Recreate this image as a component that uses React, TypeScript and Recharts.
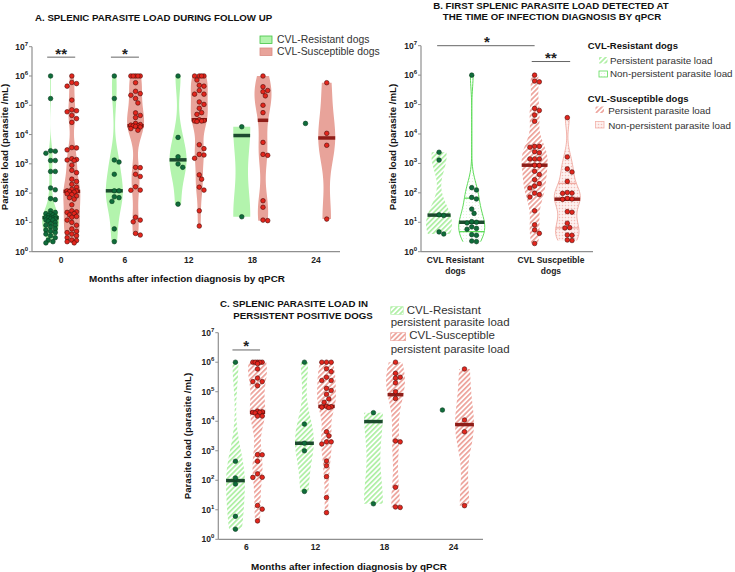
import React from 'react';
import { ScatterChart, Scatter, XAxis, YAxis } from 'recharts';

const FONT = '"Liberation Sans", Arial, Helvetica, sans-serif';
const AXIS = '#8f8f8f';

const decadeTicks = [1, 10, 100, 1000, 10000, 100000, 1000000, 10000000];

// A. splenic parasite load during follow up (parasites/mL)
const followUpMonths = [0, 6, 12, 18, 24];
const resistantFollowUp0 = [1000000, 170000, 2800, 2700, 2300, 1300, 1300, 550, 550, 150, 130, 65, 60, 25, 22, 20, 20, 18, 17, 16, 15, 15, 14, 14, 13, 13, 12, 12, 11, 10, 9, 8, 8, 7, 6, 5.5, 5, 4.5, 4, 3.5, 3, 2.5, 2.2, 2];
const susceptibleFollowUp0 = [1000000, 600000, 550000, 450000, 150000, 70000, 65000, 60000, 45000, 35000, 26000, 3600, 3500, 3000, 1500, 1400, 1350, 1300, 900, 600, 500, 300, 250, 200, 160, 135, 120, 118, 112, 108, 95, 90, 80, 70, 62, 40, 25, 23, 22, 20, 18, 16, 15, 12, 10, 8, 6, 5, 4.5, 4, 3.5, 3, 2.5, 2.4, 2.2, 2];
const resistantFollowUp6 = [1000000, 170000, 1350, 1150, 440, 120, 120, 75, 70, 52, 6, 2.2];
const susceptibleFollowUp6 = [1000000, 1000000, 1000000, 1000000, 1000000, 590000, 300000, 250000, 220000, 170000, 120000, 55000, 45000, 38000, 24000, 22000, 21000, 20000, 20000, 19000, 18000, 16000, 14000, 760, 740, 440, 370, 165, 127, 125, 15, 12, 10.5, 4.2, 3.7];
const resistantFollowUp12 = [1000000, 8000, 1750, 990, 760, 42];
const susceptibleFollowUp12 = [1000000, 1000000, 1000000, 1000000, 730000, 480000, 450000, 320000, 240000, 240000, 130000, 107000, 79000, 56000, 49000, 32000, 30000, 29000, 29000, 28000, 4500, 3300, 2100, 2000, 1550, 420, 300, 160, 127, 25, 7.5];
const resistantFollowUp18 = [18500, 15.6];
const susceptibleFollowUp18 = [1000000, 430000, 320000, 290000, 210000, 100000, 56000, 5400, 2100, 1950, 55, 33, 12, 11.5];
const resistantFollowUp24 = [24000];
const susceptibleFollowUp24 = [590000, 11000, 4300, 13];
const significanceA = [{ month: 0, stars: '**' }, { month: 6, stars: '*' }];

// B. first splenic parasite load at infection diagnosis
const firstLoadGroups = ['CVL Resistant\ndogs', 'CVL Suscpetible\ndogs'];
const resistantPersistentFirst = [2400, 1300, 18, 17, 4.7, 4];
const resistantNonPersistentFirst = [1000000, 150, 125, 70, 62, 28, 20, 10.5, 10, 9.5, 7, 6.2, 5.8, 3.8, 3.6, 2.3, 2.2];
const susceptiblePersistentFirst = [1000000, 630000, 590000, 74000, 63000, 44000, 27000, 3800, 3800, 3550, 2500, 2300, 1420, 1420, 1420, 870, 850, 540, 420, 280, 205, 170, 146, 98, 87, 72, 24.5, 8.2, 5.5, 4.2, 1.9];
const susceptibleNonPersistentFirst = [36000, 1660, 650, 510, 245, 103, 98, 96, 65, 62, 60, 23, 22, 9.3, 6.6, 6.4, 3.7, 3.6, 2.5, 2.4];

// C. persistent positive dogs
const persistentMonths = [6, 12, 18, 24];
const resistantPersistent6 = [1000000, 440, 120, 75, 6, 2.2];
const resistantPersistent12 = [1000000, 8000, 1800, 1000, 42];
const resistantPersistent18 = [19500, 16];
const resistantPersistent24 = [24000];
const susceptiblePersistent6 = [1000000, 1000000, 1000000, 1000000, 1000000, 900000, 590000, 290000, 220000, 220000, 160000, 22000, 21000, 20000, 20000, 19000, 15000, 15000, 740, 730, 440, 165, 126, 125, 14, 10.5, 4.2];
const susceptiblePersistent12 = [1000000, 1000000, 1000000, 600000, 480000, 310000, 240000, 240000, 130000, 110000, 82000, 57000, 44000, 32000, 31000, 30000, 29000, 4400, 3200, 2000, 2000, 1700, 450, 310, 133, 26, 8];
const susceptiblePersistent18 = [1000000, 420000, 310000, 290000, 200000, 100000, 59000, 2150, 2000, 58, 12.5, 12];
const susceptiblePersistent24 = [590000, 11000, 4400, 13.8];

// ---------- styles ----------
const RES_DOT = { dot: '#0f6d3b', dotStroke: '#0a3a1f', median: '#1c4a2e' };
const SUS_DOT = { dot: '#e3261d', dotStroke: '#4d0c08', median: '#8f1d18' };
const styleResA = { ...RES_DOT, fill: '#b3f4ad' };
const styleSusA = { ...SUS_DOT, fill: '#e8a39a' };
const styleResP = { ...RES_DOT, fill: 'url(#hatchG)' };
const styleResNP = { ...RES_DOT, fill: 'url(#dotsG)', stroke: '#5fdc5a', quartile: '#5fdc5a' };
const styleSusP = { ...SUS_DOT, fill: 'url(#hatchR)' };
const styleSusNP = { ...SUS_DOT, fill: 'url(#dotsR)', stroke: '#f2b2aa', quartile: '#efa9a1' };

// pixel geometry of each panel (for violin width and dot spreading)
const geoA = { pxPerX: 10.62, pxPerDecade: 29.29, half: 0.8, shift: 1.0, spread: 7 };
const geoB = { pxPerX: 95.4, pxPerDecade: 29.43, half: 0.136, shift: 0.171, spread: 9 };
const geoC = { pxPerX: 11.5, pxPerDecade: 29.5, half: 0.82, shift: 0.96, spread: 7 };

// ---------- helpers ----------
function quantile(values: number[], p: number) {
  const s = [...values].sort((a, b) => a - b);
  const n = s.length;
  const pos = p * (n + 1) - 1;
  if (pos <= 0) return s[0];
  if (pos >= n - 1) return s[n - 1];
  const lo = Math.floor(pos);
  return s[lo] + (s[lo + 1] - s[lo]) * (pos - lo);
}

function density(t: number[], h: number, y: number) {
  let s = 0;
  for (const ti of t) s += Math.exp(-((y - ti) ** 2) / (2 * h * h));
  return s;
}

function swarmOffsets(values: number[], pxPerDecade: number, maxPx: number) {
  const D = 4.7;
  const order = values.map((_, i) => i).sort((a, b) => values[b] - values[a]);
  const cands = [0];
  for (let k = 1; (k * D) / 2 <= maxPx + 0.01; k++) cands.push((k * D) / 2, (-k * D) / 2);
  const placed: { x: number; y: number }[] = [];
  const out = new Array(values.length).fill(0);
  for (const i of order) {
    const y = Math.log10(values[i]) * pxPerDecade;
    let best = 0;
    let bestGap = -Infinity;
    for (const c of cands) {
      let gap = Infinity;
      for (const p of placed) gap = Math.min(gap, Math.hypot(p.x - c, p.y - y));
      if (gap >= D) {
        best = c;
        break;
      }
      if (gap > bestGap) {
        bestGap = gap;
        best = c;
      }
    }
    placed.push({ x: best, y });
    out[i] = best;
  }
  return out;
}

function buildGroup(values: number[], center: number, geo: any, style: any, quartiles = false) {
  const offs = swarmOffsets(values, geo.pxPerDecade, geo.spread);
  const points = values.map((v, i) => ({ x: center + offs[i] / geo.pxPerX, y: v }));
  if (values.length < 2) return { style, points, outline: null, lines: [] as any[] };
  const t = values.map((v) => Math.log10(v));
  const n = t.length;
  const mean = t.reduce((a, b) => a + b, 0) / n;
  const sd = Math.sqrt(t.reduce((a, b) => a + (b - mean) ** 2, 0) / (n - 1));
  const h = Math.max(0.58 * sd * Math.pow(n, -0.2), 0.12);
  const lo = Math.min(...t);
  const hi = Math.max(...t);
  const steps = 60;
  const ys = Array.from({ length: steps + 1 }, (_, i) => lo + ((hi - lo) * i) / steps);
  const ds = ys.map((y) => density(t, h, y));
  const dmax = Math.max(...ds);
  const halfAt = (v: number) => (geo.half * density(t, h, Math.log10(v))) / dmax;
  const right = ys.map((y, i) => ({ x: center + (geo.half * ds[i]) / dmax, y: 10 ** y }));
  const left = ys.map((y, i) => ({ x: center - (geo.half * ds[i]) / dmax, y: 10 ** y })).reverse();
  const lines: any[] = [];
  const seg = (v: number) => [
    { x: center - halfAt(v), y: v },
    { x: center + halfAt(v), y: v },
  ];
  if (quartiles) {
    lines.push({ color: style.quartile, width: 1.3, data: seg(quantile(values, 0.25)) });
    lines.push({ color: style.quartile, width: 1.3, data: seg(quantile(values, 0.75)) });
  }
  lines.push({ color: style.median, width: 3.5, data: seg(quantile(values, 0.5)) });
  return { style, points, outline: [...right, ...left], lines };
}

// ---------- groups ----------
const resistantFollowUp = [resistantFollowUp0, resistantFollowUp6, resistantFollowUp12, resistantFollowUp18, resistantFollowUp24];
const susceptibleFollowUp = [susceptibleFollowUp0, susceptibleFollowUp6, susceptibleFollowUp12, susceptibleFollowUp18, susceptibleFollowUp24];
const groupsA = followUpMonths.flatMap((m, i) => [
  buildGroup(resistantFollowUp[i], m - geoA.shift, geoA, styleResA),
  buildGroup(susceptibleFollowUp[i], m + geoA.shift, geoA, styleSusA),
]);

const groupsB = [
  buildGroup(resistantPersistentFirst, 0 - geoB.shift, geoB, styleResP),
  buildGroup(resistantNonPersistentFirst, 0 + geoB.shift, geoB, styleResNP, true),
  buildGroup(susceptiblePersistentFirst, 1 - geoB.shift, geoB, styleSusP),
  buildGroup(susceptibleNonPersistentFirst, 1 + geoB.shift, geoB, styleSusNP, true),
];

const resistantPersistent = [resistantPersistent6, resistantPersistent12, resistantPersistent18, resistantPersistent24];
const susceptiblePersistent = [susceptiblePersistent6, susceptiblePersistent12, susceptiblePersistent18, susceptiblePersistent24];
const groupsC = persistentMonths.flatMap((m, i) => [
  buildGroup(resistantPersistent[i], m - geoC.shift, geoC, styleResP),
  buildGroup(susceptiblePersistent[i], m + geoC.shift, geoC, styleSusP),
]);

// significance brackets
const sigA = significanceA.map((s) => ({
  from: s.month - geoA.shift - 3.4 / geoA.pxPerX,
  to: s.month + geoA.shift + 3.4 / geoA.pxPerX,
  level: 4.4e6,
  stars: s.stars,
}));
const sigB = [
  { from: -geoB.shift - 0.02, to: 1 - geoB.shift, level: 1e7, stars: '*', at: 0.33 },
  { from: 1 - geoB.shift - 0.03, to: 1 + geoB.shift + 0.03, level: 2.9e6, stars: '**' },
];
const sigC = [{ from: 6 - geoC.shift - 0.26, to: 6 + geoC.shift + 0.22, level: 2.6e6, stars: '*' }];

// ---------- ticks ----------
const DecadeTick = (props: any) => {
  const { x, y, payload } = props;
  const exp = Math.round(Math.log10(payload.value));
  return (
    <text x={x} y={y + 3} textAnchor="end" fontFamily={FONT} fontSize={8.5} fontWeight="bold" fill="#222">
      10
      <tspan dy={-4} fontSize={6}>
        {exp}
      </tspan>
    </text>
  );
};

const MonthTick = (props: any) => (
  <text x={props.x} y={props.y + 11} textAnchor="middle" fontFamily={FONT} fontSize={8.5} fontWeight="bold" fill="#222">
    {props.payload.value}
  </text>
);

const GroupTick = (props: any) => {
  const lines = firstLoadGroups[Math.round(props.payload.value)].split('\n');
  return (
    <text x={props.x} y={props.y + 11.3} textAnchor="middle" fontFamily={FONT} fontSize={8.5} fontWeight="bold" fill="#222">
      {lines.map((l, i) => (
        <tspan key={i} x={props.x} dy={i === 0 ? 0 : 11}>
          {l}
        </tspan>
      ))}
    </text>
  );
};

const none = () => <g />;

function ViolinPanel(props: any) {
  const { width, height, margin, xDomain, xTicks, xTick, yWidth, xHeight, groups, sigs } = props;
  return (
    <ScatterChart width={width} height={height} margin={margin}>
      <XAxis
        type="number"
        dataKey="x"
        domain={xDomain}
        ticks={xTicks}
        interval={0}
        tickLine={false}
        tickSize={0}
        tickMargin={0}
        tick={xTick}
        height={xHeight}
        axisLine={{ stroke: AXIS, strokeWidth: 1.2 }}
      />
      <YAxis
        type="number"
        dataKey="y"
        scale="log"
        domain={[1, 10000000]}
        ticks={decadeTicks}
        interval={0}
        tick={<DecadeTick />}
        tickSize={3}
        tickMargin={1}
        width={yWidth}
        axisLine={{ stroke: AXIS, strokeWidth: 1.2 }}
        tickLine={{ stroke: AXIS }}
      />
      {groups.map((g: any, i: number) =>
        g.outline ? (
          <Scatter
            key={'v' + i}
            data={g.outline}
            line={{ fill: g.style.fill, stroke: g.style.stroke || 'none', strokeWidth: 1 }}
            lineType="joint"
            shape={none}
            isAnimationActive={false}
          />
        ) : null
      )}
      {groups.flatMap((g: any, i: number) =>
        g.lines.map((l: any, j: number) => (
          <Scatter
            key={'l' + i + '-' + j}
            data={l.data}
            line={{ stroke: l.color, strokeWidth: l.width }}
            lineType="joint"
            shape={none}
            isAnimationActive={false}
          />
        ))
      )}
      {groups.map((g: any, i: number) => (
        <Scatter
          key={'p' + i}
          data={g.points}
          isAnimationActive={false}
          shape={(p: any) => (
            <circle cx={p.cx} cy={p.cy} r={2.3} fill={g.style.dot} stroke={g.style.dotStroke} strokeWidth={0.6} />
          )}
        />
      ))}
      {sigs.map((s: any, i: number) => (
        <Scatter
          key={'s' + i}
          data={[
            { x: s.from, y: s.level },
            { x: s.to, y: s.level },
          ]}
          line={{ stroke: '#666', strokeWidth: 1 }}
          lineType="joint"
          shape={none}
          isAnimationActive={false}
        />
      ))}
      {sigs.map((s: any, i: number) => (
        <Scatter
          key={'t' + i}
          data={[{ x: s.at ?? (s.from + s.to) / 2, y: s.level }]}
          isAnimationActive={false}
          shape={(p: any) => (
            <text x={p.cx} y={p.cy + 1.5} textAnchor="middle" fontFamily={FONT} fontSize={15} fontWeight="bold" fill="#222">
              {s.stars}
            </text>
          )}
        />
      ))}
    </ScatterChart>
  );
}

function Patterns() {
  return (
    <defs>
      <pattern id="hatchG" width="3.6" height="3.6" patternUnits="userSpaceOnUse" patternTransform="rotate(45)">
        <rect width="3.6" height="3.6" fill="#fff" />
        <rect width="1.7" height="3.6" fill="#aeefa3" />
      </pattern>
      <pattern id="hatchR" width="3.6" height="3.6" patternUnits="userSpaceOnUse" patternTransform="rotate(45)">
        <rect width="3.6" height="3.6" fill="#fff" />
        <rect width="1.7" height="3.6" fill="#eda29a" />
      </pattern>
      <pattern id="dotsG" width="3" height="3" patternUnits="userSpaceOnUse">
        <rect width="3" height="3" fill="#fff" />
        <circle cx="1.5" cy="1.5" r="0.6" fill="#dcf6d8" />
      </pattern>
      <pattern id="dotsR" width="3" height="3" patternUnits="userSpaceOnUse">
        <rect width="3" height="3" fill="#fdf1ef" />
        <circle cx="1.5" cy="1.5" r="0.75" fill="#f3bdb6" />
      </pattern>
    </defs>
  );
}

const T = (p: any) => (
  <text fontFamily={FONT} fill={p.fill || '#111'} fontSize={p.size || 9.7} fontWeight={p.bold ? 'bold' : 'normal'} textAnchor={p.anchor || 'start'} x={p.x} y={p.y} transform={p.transform}>
    {p.children}
  </text>
);

function Overlay() {
  return (
    <svg width={735} height={572} style={{ position: 'absolute', left: 0, top: 0, pointerEvents: 'none' }}>
      <Patterns />
      {/* titles */}
      <T x={35} y={20.5} bold>A. SPLENIC PARASITE LOAD DURING FOLLOW UP</T>
      <T x={551} y={9.4} bold anchor="middle">B. FIRST SPLENIC PARASITE LOAD DETECTED AT</T>
      <T x={552} y={20.4} bold anchor="middle">THE TIME OF INFECTION DIAGNOSIS BY qPCR</T>
      <T x={294} y={306.8} bold anchor="middle">C. SPLENIC PARASITE LOAD IN</T>
      <T x={303} y={318.5} bold anchor="middle">PERSISTENT POSITIVE DOGS</T>
      {/* axis titles */}
      <T transform="translate(8,147) rotate(-90)" bold anchor="middle">Parasite load (parasite /mL)</T>
      <T transform="translate(395.5,147) rotate(-90)" bold anchor="middle">Parasite load (parasite /mL)</T>
      <T transform="translate(190.5,436) rotate(-90)" bold anchor="middle">Parasite load (parasite /mL)</T>
      <T x={187} y={281.5} bold anchor="middle" size={9.9}>Months after infection diagnosis by qPCR</T>
      <T x={349} y={569.5} bold anchor="middle" size={9.9}>Months after infection diagnosis by qPCR</T>
      {/* legend A */}
      <rect x={260} y={36} width={12} height={7.5} fill="#b3f4ad" stroke="#43c443" strokeWidth={0.8} />
      <T x={277} y={43} size={10.4} fill="#333">CVL-Resistant dogs</T>
      <rect x={260} y={48} width={12} height={7.5} fill="#e8a39a" stroke="#d98b82" strokeWidth={0.8} />
      <T x={277} y={55.4} size={10.4} fill="#333">CVL-Susceptible dogs</T>
      {/* legend B */}
      <T x={587.7} y={49.2} bold size={9.5}>CVL-Resistant dogs</T>
      <rect x={599} y={57} width={8.5} height={6.5} fill="url(#hatchG)" />
      <T x={610} y={63.5} size={9.8} fill="#333">Persistent parasite load</T>
      <rect x={599} y={71} width={8.5} height={6} fill="url(#dotsG)" stroke="#5fdc5a" strokeWidth={0.8} />
      <T x={610} y={77} size={9.8} fill="#333">Non-persistent parasite load</T>
      <T x={587.7} y={101.8} bold size={9.5}>CVL-Susceptible dogs</T>
      <rect x={595.5} y={106.5} width={8.5} height={6.5} fill="url(#hatchR)" />
      <T x={608.3} y={113.5} size={9.8} fill="#333">Persistent parasite load</T>
      <rect x={595.5} y={121.5} width={8.5} height={6.5} fill="url(#dotsR)" stroke="#f2b2aa" strokeWidth={0.8} />
      <T x={608.3} y={128.5} size={9.8} fill="#333">Non-persistent parasite load</T>
      {/* legend C */}
      <rect x={390.7} y={306.7} width={12.5} height={7.6} fill="url(#hatchG)" stroke="#aeefa3" strokeWidth={0.6} />
      <T x={406.7} y={313.5} size={11.5} fill="#333">CVL-Resistant</T>
      <T x={390.7} y={325.8} size={11.5} fill="#333">persistent parasite load</T>
      <rect x={390.7} y={332.7} width={15} height={8} fill="url(#hatchR)" stroke="#eda29a" strokeWidth={0.6} />
      <T x={409.3} y={339.2} size={11.5} fill="#333">CVL-Susceptible</T>
      <T x={390.7} y={352.5} size={11.5} fill="#333">persistent parasite load</T>
    </svg>
  );
}

export default function App() {
  return (
    <div style={{ position: 'absolute', left: 0, top: 0, width: 735, height: 572, background: '#fff', overflow: 'hidden' }}>
      <div style={{ position: 'absolute', left: 0, top: 0 }}>
        <ViolinPanel
          width={360}
          height={300}
          margin={{ top: 46.7, right: 20, bottom: 28.3, left: 0 }}
          yWidth={32}
          xHeight={20}
          xDomain={[-2.75, 26.25]}
          xTicks={followUpMonths}
          xTick={<MonthTick />}
          groups={groupsA}
          sigs={sigA}
        />
      </div>
      <div style={{ position: 'absolute', left: 360, top: 0 }}>
        <ViolinPanel
          width={375}
          height={300}
          margin={{ top: 45.7, right: 142, bottom: 18.3, left: 31 }}
          yWidth={30}
          xHeight={30}
          xDomain={[-0.36, 1.44]}
          xTicks={[0, 1]}
          xTick={<GroupTick />}
          groups={groupsB}
          sigs={sigB}
        />
      </div>
      <div style={{ position: 'absolute', left: 150, top: 290 }}>
        <ViolinPanel
          width={400}
          height={282}
          margin={{ top: 42.7, right: 67, bottom: 12.7, left: 38.3 }}
          yWidth={30}
          xHeight={20}
          xDomain={[3.55, 26.57]}
          xTicks={persistentMonths}
          xTick={<MonthTick />}
          groups={groupsC}
          sigs={sigC}
        />
      </div>
      <Overlay />
    </div>
  );
}
